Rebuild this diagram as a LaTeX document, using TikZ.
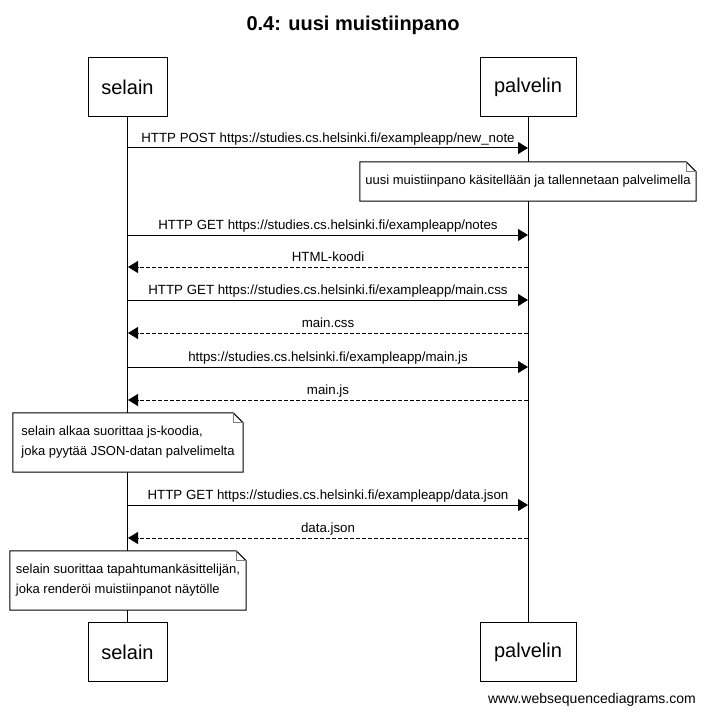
\documentclass[tikz,border=0pt]{standalone}
\usepackage{fontspec}
\setmainfont{Liberation Sans}
\usetikzlibrary{arrows.meta}
\begin{document}
\begin{tikzpicture}
        [x=1pt, y=-1pt,
        actor/.style={draw, line width=1pt, fill=white, minimum height=59pt, font=\fontsize{20}{24}\selectfont},
        msg/.style={line width=1pt, -{Triangle[length=10pt,width=12pt]}},
        reply/.style={msg, dash pattern=on 4pt off 2pt},
        lbl/.style={anchor=base, yshift=5.5pt, inner sep=0pt, font=\fontsize{13.3}{15}\selectfont},
        note/.style={fill=white, inner sep=0pt, align=left, font=\fontsize{13}{20}\selectfont}]
        \useasboundingbox (0,0) rectangle (705,714);

        \node[font=\bfseries\fontsize{20}{24}\selectfont] (title) at (353,25) {0.4: uusi muistiinpano};

        \node[actor, minimum width=79pt] (sTop) at (127.5,87.5) {selain};
        \node[actor, minimum width=96pt] (pTop) at (528,87.5) {palvelin};
        \node[actor, minimum width=79pt] (sBot) at (127.5,652) {selain};
        \node[actor, minimum width=96pt] (pBot) at (528,652) {palvelin};

        \draw[line width=1pt] (sTop.south) -- (sBot.north);
        \draw[line width=1pt] (pTop.south) -- (pBot.north);

        % message rows on both lifelines
        \foreach \i/\y in {1/148, 2/235, 3/267, 4/300, 5/333, 6/367, 7/400, 8/505, 9/538}
            {\coordinate (s\i) at (128,\y);
             \coordinate (p\i) at (528,\y);}

        \draw[msg] (s1) -- node[lbl] {HTTP POST https://studies.cs.helsinki.fi/exampleapp/new\_note} (p1);
        \draw[msg] (s2) -- node[lbl] {HTTP GET https://studies.cs.helsinki.fi/exampleapp/notes} (p2);
        \draw[reply] (p3) -- node[lbl] {HTML-koodi} (s3);
        \draw[msg] (s4) -- node[lbl] {HTTP GET https://studies.cs.helsinki.fi/exampleapp/main.css} (p4);
        \draw[reply] (p5) -- node[lbl] {main.css} (s5);
        \draw[msg] (s6) -- node[lbl] {https://studies.cs.helsinki.fi/exampleapp/main.js} (p6);
        \draw[reply] (p7) -- node[lbl] {main.js} (s7);
        \draw[msg] (s8) -- node[lbl] {HTTP GET https://studies.cs.helsinki.fi/exampleapp/data.json} (p8);
        \draw[reply] (p9) -- node[lbl] {data.json} (s9);

        \node[note, minimum width=336pt, minimum height=39pt] (n1) at (528,181.5)
            {uusi muistiinpano käsitellään ja tallennetaan palvelimella};
        \node[note, minimum width=230pt, minimum height=59pt] (n2) at (128,442.5)
            {selain alkaa suorittaa js-koodia,\\joka pyytää JSON-datan palvelimelta};
        \node[note, minimum width=236pt, minimum height=59pt] (n3) at (128,580.5)
            {selain suorittaa tapahtumankäsittelijän,\\joka renderöi muistiinpanot näytölle};

        % folded corners
        \foreach \n in {n1,n2,n3}
            {\draw[line width=1pt] (\n.south west) -- (\n.north west) -- ([xshift=-10pt]\n.north east)
                -- ([yshift=-10pt]\n.north east) -- (\n.south east) -- cycle;
             \draw[gray, line width=1pt] ([xshift=-10pt]\n.north east) -- ([xshift=-10pt,yshift=-10pt]\n.north east)
                -- ([yshift=-10pt]\n.north east);}

        \node[anchor=base east, inner sep=0pt, font=\fontsize{14}{16}\selectfont] (site) at (696,703) {www.websequencediagrams.com};
    \end{tikzpicture}
\end{document}
